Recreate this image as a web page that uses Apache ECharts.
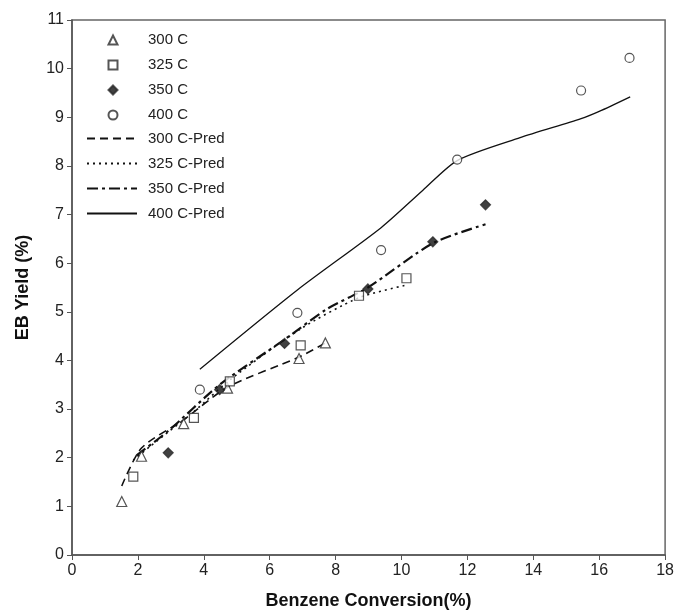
<!DOCTYPE html>
<html><head><meta charset="utf-8">
<script src="https://cdn.jsdelivr.net/npm/echarts@6/dist/echarts.min.js"></script>
<style>html,body{margin:0;padding:0;background:#fff}#c{width:677px;height:615px}</style>
</head><body><div id="c"></div>
<script>
// Measured data
const x300 = [1.51, 2.11, 3.39, 4.72, 6.89, 7.69];
const y300 = [1.10, 2.03, 2.70, 3.43, 4.04, 4.36];
const x325 = [1.86, 3.70, 4.79, 6.94, 8.71, 10.15];
const y325 = [1.61, 2.82, 3.57, 4.31, 5.33, 5.69];
const x350 = [2.92, 4.48, 6.45, 8.98, 10.95, 12.55];
const y350 = [2.10, 3.40, 4.35, 5.47, 6.44, 7.20];
const x400 = [3.88, 6.84, 9.38, 11.69, 15.45, 16.92];
const y400 = [3.40, 4.98, 6.27, 8.13, 9.55, 10.22];
// Predicted curves
const xp300 = [1.51, 2.11, 3.39, 4.72, 6.89, 7.69];
const yp300 = [1.42, 2.20, 2.78, 3.45, 4.07, 4.36];
const xp325 = [1.86, 2.4, 3.70, 4.79, 6.94, 8.71, 10.15];
const yp325 = [1.95, 2.25, 2.95, 3.60, 4.65, 5.29, 5.55];
const xp350 = [1.96, 2.92, 4.48, 6.45, 7.72, 8.98, 10.95, 12.55];
const yp350 = [2.05, 2.55, 3.50, 4.43, 5.05, 5.50, 6.41, 6.80];
const xp400 = [3.88, 6.84, 9.38, 10.65, 11.69, 13.6, 15.45, 16.0, 16.94];
const yp400 = [3.82, 5.45, 6.73, 7.50, 8.11, 8.58, 8.97, 9.12, 9.42];
const xTicks = [0, 2, 4, 6, 8, 10, 12, 14, 16, 18];
const yTicks = [0, 1, 2, 3, 4, 5, 6, 7, 8, 9, 10, 11];
const scatterNames = ['300 C', '325 C', '350 C', '400 C'];
const lineNames = ['300 C-Pred', '325 C-Pred', '350 C-Pred', '400 C-Pred'];

const pairs = (xs, ys) => xs.map((v, i) => [v, ys[i]]);
const font = 'Liberation Sans, Arial, sans-serif';
const chart = echarts.init(document.getElementById('c'), null, {renderer: 'canvas'});
const scat = (name, xs, ys, symbol, size, fill) => ({
  name, type: 'scatter', data: pairs(xs, ys), symbol, symbolSize: size, z: 5,
  itemStyle: {color: fill, borderColor: '#2a2a2a', borderWidth: 1.2}
});
const line = (name, xs, ys, type, width) => ({
  name, type: 'line', data: pairs(xs, ys), symbol: 'none', smooth: 0.25,
  itemStyle: {color: 'rgba(0,0,0,0)', borderWidth: 0},
  lineStyle: {color: '#111', width, type}
});
const legendText = (pad) => ({fontFamily: font, fontSize: 15, color: '#222', padding: [0, 0, 0, pad]});
chart.setOption({
  animation: false,
  grid: {left: 72, right: 11, top: 20, bottom: 56, show: true, borderColor: '#666', borderWidth: 1.5, backgroundColor: 'transparent'},
  legend: [
    {
      orient: 'vertical', left: 107.5, top: 32.5, padding: 0, itemWidth: 9, itemHeight: 9, itemGap: 10,
      textStyle: legendText(25.5), data: scatterNames
    },
    {
      orient: 'vertical', left: 86, top: 131, padding: 0, itemWidth: 50, itemHeight: 9, itemGap: 10,
      itemStyle: {opacity: 0},
      textStyle: legendText(6), data: lineNames
    }
  ],
  xAxis: {
    type: 'value', min: 0, max: 18, interval: 2,
    name: 'Benzene Conversion(%)', nameLocation: 'middle', nameGap: 37,
    nameTextStyle: {fontFamily: font, fontSize: 18, fontWeight: 'bold', color: '#111'},
    axisLine: {show: true, onZero: false, lineStyle: {color: '#555', width: 1.5}},
    axisTick: {show: true, length: 5, lineStyle: {color: '#555'}},
    axisLabel: {fontFamily: font, fontSize: 16, color: '#222', margin: 8},
    splitLine: {show: false}
  },
  yAxis: {
    type: 'value', min: 0, max: 11, interval: 1,
    name: 'EB Yield (%)', nameLocation: 'middle', nameGap: 40, nameRotate: 90,
    nameTextStyle: {fontFamily: font, fontSize: 18, fontWeight: 'bold', color: '#111'},
    axisLine: {show: true, lineStyle: {color: '#555', width: 1.5}},
    axisTick: {show: true, length: 5, lineStyle: {color: '#555'}},
    axisLabel: {fontFamily: font, fontSize: 16, color: '#222', margin: 8},
    splitLine: {show: false}
  },
  series: [
    scat('300 C', x300, y300, 'triangle', 10, '#fff'),
    scat('325 C', x325, y325, 'rect', 9, '#fff'),
    scat('350 C', x350, y350, 'diamond', 10, '#111'),
    scat('400 C', x400, y400, 'circle', 9, '#fff'),
    line('300 C-Pred', xp300, yp300, [8, 5], 1.6),
    line('325 C-Pred', xp325, yp325, [2, 4], 1.6),
    line('350 C-Pred', xp350, yp350, [11, 4, 3, 4], 2.2),
    line('400 C-Pred', xp400, yp400, 'solid', 1.3)
  ]
});
</script></body></html>
